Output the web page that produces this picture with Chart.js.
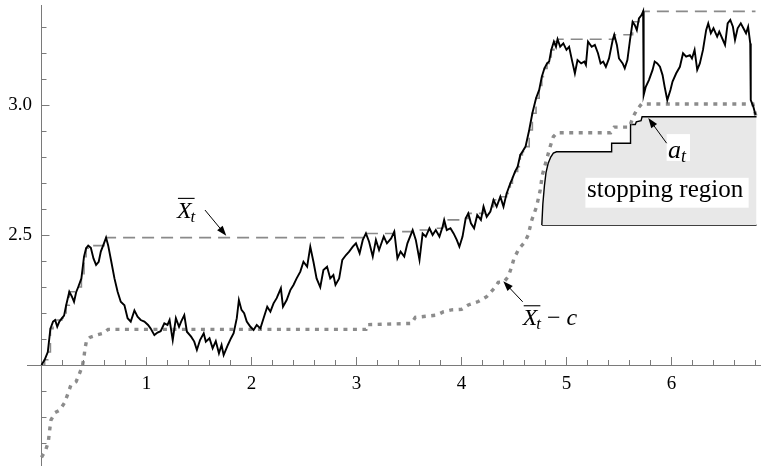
<!DOCTYPE html>
<html><head><meta charset="utf-8">
<script src="https://cdn.jsdelivr.net/npm/chart.js@4.4.1/dist/chart.umd.min.js"></script>
<style>html,body{margin:0;padding:0;background:#fff;overflow:hidden}#wrap{width:763px;height:466px}</style>
</head><body><div id="wrap"><canvas id="c" width="763" height="466"></canvas></div>
<script>
// ---------- data ----------
const pathT = [0,0.03,0.06,0.085,0.11,0.13,0.15,0.17,0.195,0.215,0.235,0.265,0.29,0.31,0.33,0.35,0.38,0.405,0.425,0.445,0.47,0.495,0.52,0.545,0.565,0.595,0.615,0.635,0.665,0.695,0.725,0.755,0.79,0.82,0.85,0.885,0.915,0.945,0.98,1.015,1.04,1.075,1.105,1.135,1.17,1.2,1.22,1.25,1.28,1.31,1.33,1.36,1.385,1.425,1.455,1.48,1.51,1.545,1.565,1.6,1.63,1.66,1.69,1.715,1.735,1.775,1.805,1.83,1.86,1.88,1.905,1.93,1.955,1.99,2.02,2.05,2.085,2.115,2.15,2.18,2.21,2.24,2.28,2.3,2.335,2.37,2.4,2.43,2.465,2.495,2.53,2.56,2.59,2.62,2.655,2.685,2.72,2.75,2.78,2.8,2.835,2.865,2.9,2.93,2.965,2.995,3.03,3.06,3.09,3.12,3.155,3.185,3.215,3.26,3.29,3.33,3.36,3.39,3.42,3.455,3.485,3.535,3.565,3.6,3.63,3.66,3.695,3.725,3.755,3.79,3.82,3.835,3.86,3.895,3.925,3.955,3.98,4.01,4.04,4.065,4.09,4.12,4.15,4.185,4.21,4.24,4.275,4.305,4.335,4.37,4.4,4.43,4.465,4.485,4.51,4.535,4.56,4.58,4.61,4.645,4.675,4.71,4.74,4.765,4.79,4.815,4.835,4.855,4.88,4.9,4.915,4.94,4.97,5.0,5.025,5.055,5.08,5.105,5.14,5.17,5.185,5.205,5.24,5.27,5.3,5.325,5.35,5.375,5.405,5.44,5.455,5.48,5.5,5.535,5.555,5.58,5.605,5.63,5.65,5.67,5.69,5.715,5.73,5.735,5.755,5.785,5.82,5.84,5.865,5.89,5.915,5.935,5.96,5.99,6.01,6.045,6.08,6.11,6.14,6.175,6.195,6.22,6.245,6.27,6.3,6.33,6.35,6.375,6.4,6.435,6.455,6.49,6.51,6.535,6.56,6.585,6.605,6.63,6.66,6.685,6.71,6.73,6.75,6.755,6.78,6.8];
const pathX = [2.0,2.02,2.05,2.14,2.167,2.173,2.147,2.167,2.18,2.19,2.23,2.282,2.263,2.243,2.28,2.30,2.333,2.417,2.449,2.459,2.451,2.41,2.385,2.397,2.436,2.468,2.49,2.46,2.397,2.333,2.282,2.243,2.23,2.18,2.167,2.21,2.186,2.173,2.167,2.154,2.14,2.115,2.125,2.13,2.16,2.154,2.173,2.096,2.18,2.147,2.167,2.192,2.128,2.109,2.09,2.058,2.096,2.122,2.09,2.103,2.064,2.092,2.045,2.077,2.038,2.077,2.103,2.122,2.18,2.25,2.212,2.199,2.167,2.147,2.135,2.154,2.141,2.18,2.224,2.205,2.237,2.257,2.295,2.224,2.25,2.288,2.308,2.333,2.359,2.397,2.378,2.455,2.397,2.333,2.299,2.365,2.378,2.333,2.346,2.308,2.333,2.404,2.423,2.436,2.455,2.468,2.43,2.481,2.506,2.474,2.417,2.481,2.442,2.494,2.468,2.487,2.513,2.41,2.436,2.417,2.468,2.519,2.481,2.404,2.506,2.494,2.526,2.5,2.519,2.494,2.532,2.558,2.519,2.526,2.506,2.481,2.455,2.494,2.564,2.583,2.545,2.526,2.577,2.558,2.609,2.57,2.59,2.635,2.609,2.647,2.609,2.66,2.699,2.718,2.744,2.763,2.808,2.82,2.84,2.904,2.968,3.026,3.058,3.109,3.141,3.16,3.167,3.212,3.244,3.224,3.253,3.224,3.237,3.212,3.224,3.167,3.122,3.173,3.16,3.167,3.154,3.244,3.224,3.231,3.199,3.16,3.167,3.147,3.179,3.25,3.27,3.231,3.179,3.16,3.141,3.173,3.25,3.32,3.308,3.288,3.333,3.346,3.36,3.038,3.07,3.096,3.135,3.167,3.16,3.147,3.115,3.07,3.019,3.058,3.09,3.122,3.147,3.199,3.186,3.192,3.179,3.212,3.135,3.16,3.212,3.288,3.314,3.276,3.295,3.263,3.282,3.25,3.231,3.314,3.327,3.301,3.25,3.295,3.314,3.295,3.276,3.301,3.237,3.019,2.993,2.962];

// running maximum (dashed), step points
const maxT = [0,0.03,0.06,0.085,0.11,0.13,0.195,0.215,0.235,0.265,0.35,0.38,0.405,0.425,0.445,0.595,0.615,3.09,3.36,3.535,3.695,3.82,3.835,4.04,4.065,4.21,4.305,4.37,4.43,4.465,4.485,4.51,4.535,4.56,4.58,4.61,4.645,4.675,4.71,4.74,4.765,4.79,4.815,4.835,4.855,4.88,4.915,5.455,5.63,5.69,5.715,5.73,6.8];
const maxX = [2.0,2.02,2.05,2.14,2.167,2.173,2.18,2.19,2.23,2.282,2.30,2.333,2.417,2.449,2.459,2.468,2.49,2.506,2.513,2.519,2.526,2.532,2.558,2.564,2.583,2.609,2.635,2.647,2.66,2.699,2.718,2.744,2.763,2.808,2.82,2.84,2.904,2.968,3.026,3.058,3.109,3.141,3.16,3.167,3.212,3.244,3.253,3.27,3.32,3.333,3.346,3.36,3.36];

// running maximum minus c (dotted)
const lowT = [0,0.04,0.065,0.08,0.09,0.13,0.175,0.22,0.25,0.28,0.33,0.36,0.39,0.405,0.415,0.43,0.46,0.525,0.59,0.635,3.09,3.10,3.525,3.56,3.765,3.83,3.905,4.0,4.065,4.16,4.24,4.32,4.35,4.405,4.445,4.478,4.5,4.55,4.605,4.635,4.67,4.715,4.75,4.77,4.805,4.845,4.875,4.91,5.42,5.455,5.6,5.635,5.67,5.715,6.775,6.79,6.805];
const lowX = [1.645,1.673,1.705,1.757,1.788,1.817,1.827,1.855,1.888,1.923,1.936,1.965,1.997,2.032,2.064,2.096,2.106,2.115,2.122,2.137,2.137,2.155,2.16,2.183,2.192,2.205,2.212,2.214,2.231,2.244,2.263,2.299,2.318,2.32,2.34,2.378,2.41,2.449,2.474,2.5,2.558,2.609,2.673,2.731,2.782,2.84,2.878,2.893,2.893,2.915,2.915,2.955,2.981,3.004,3.004,2.98,2.955];

// boundary a_t of the stopping region
const aT = [4.765,4.775,4.79,4.805,4.825,4.85,4.875,4.905,5.43,5.43,5.61,5.61,5.655,5.665,5.71,5.72,6.81];
const aX = [2.538,2.62,2.69,2.74,2.775,2.80,2.815,2.82,2.82,2.853,2.853,2.925,2.925,2.935,2.94,2.955,2.955];
const regionBottom = 2.538;

// tick labels
const xTickLabels = ['1','2','3','4','5','6'];
const yTickLabels = ['2.5','3.0'];

// ---------- drawing ----------
const pts = (ts, vs) => ts.map((t, i) => ({x: t, y: vs[i]}));
const SERIF = '"Liberation Serif", "Times New Roman", serif';
const GAP = '\u2002'; // keeps y labels clear of the axis

const tickMarks = {
  id: 'tickMarks',
  afterDraw(chart) {
    const {ctx, scales: {x, y}} = chart;
    const ax = x.getPixelForValue(0), ay = y.getPixelForValue(2);
    ctx.save();
    ctx.strokeStyle = '#7a7a7a';
    ctx.lineWidth = 1;
    x.ticks.forEach(tk => {
      if (tk.value <= 0) return;
      const px = Math.round(x.getPixelForValue(tk.value)) + 0.5;
      const major = Math.abs(tk.value - Math.round(tk.value)) < 1e-6;
      ctx.beginPath(); ctx.moveTo(px, ay); ctx.lineTo(px, ay - (major ? 8 : 5)); ctx.stroke();
    });
    y.ticks.forEach(tk => {
      const py = Math.round(y.getPixelForValue(tk.value)) + 0.5;
      const major = Math.abs(tk.value * 2 - Math.round(tk.value * 2)) < 1e-6;
      ctx.beginPath(); ctx.moveTo(ax, py); ctx.lineTo(ax + (major ? 8 : 5), py); ctx.stroke();
    });
    ctx.restore();
  }
};

function arrow(ctx, x1, y1, x2, y2) {
  const a = Math.atan2(y2 - y1, x2 - x1), L = 10, W = 3.6;
  ctx.beginPath(); ctx.moveTo(x1, y1); ctx.lineTo(x2 - L * 0.8 * Math.cos(a), y2 - L * 0.8 * Math.sin(a)); ctx.stroke();
  ctx.beginPath(); ctx.moveTo(x2, y2);
  ctx.lineTo(x2 - L * Math.cos(a) + W * Math.sin(a), y2 - L * Math.sin(a) - W * Math.cos(a));
  ctx.lineTo(x2 - L * Math.cos(a) - W * Math.sin(a), y2 - L * Math.sin(a) + W * Math.cos(a));
  ctx.closePath(); ctx.fill();
}

function xbar(ctx, px, py, size, tail) {
  ctx.font = 'italic ' + size + 'px ' + SERIF;
  ctx.textAlign = 'left'; ctx.textBaseline = 'alphabetic';
  ctx.fillText('X', px, py);
  const w = ctx.measureText('X').width;
  ctx.lineWidth = 1.1;
  ctx.beginPath(); ctx.moveTo(px + 1, py - size * 0.8); ctx.lineTo(px + w + 3, py - size * 0.8); ctx.stroke();
  ctx.font = 'italic ' + Math.round(size * 0.72) + 'px ' + SERIF;
  ctx.fillText('t', px + w - 1, py + size * 0.18);
  let cx = px + w - 1 + ctx.measureText('t').width;
  if (tail) {
    ctx.font = size + 'px ' + SERIF;
    ctx.fillText(' \u2212 ', cx, py);
    cx += ctx.measureText(' \u2212 ').width;
    ctx.font = 'italic ' + size + 'px ' + SERIF;
    ctx.fillText('c', cx, py);
  }
}

const annotations = {
  id: 'annotations',
  afterDatasetsDraw(chart) {
    const {ctx, scales: {x, y}} = chart;
    const X = v => x.getPixelForValue(v), Y = v => y.getPixelForValue(v);
    ctx.save();
    ctx.fillStyle = '#000'; ctx.strokeStyle = '#000'; ctx.lineWidth = 1;
    // X-bar label
    xbar(ctx, X(1.29), Y(2.567), 24, false);
    ctx.lineWidth = 1; arrow(ctx, X(1.557), Y(2.596), X(1.76), Y(2.497));
    // X-bar minus c
    xbar(ctx, X(4.583), Y(2.154), 24, true);
    ctx.lineWidth = 1; arrow(ctx, X(4.583), Y(2.243), X(4.398), Y(2.322));
    // a_t label and stopping-region label with white boxes
    ctx.fillStyle = '#fff';
    ctx.fillRect(X(5.954), Y(2.888), X(6.176) - X(5.954), Y(2.785) - Y(2.888));
    ctx.fillRect(X(5.18), Y(2.720), X(6.735) - X(5.18), Y(2.605) - Y(2.720));
    ctx.fillStyle = '#000';
    ctx.font = 'italic 26px ' + SERIF; ctx.textAlign = 'left'; ctx.textBaseline = 'alphabetic';
    ctx.fillText('a', X(5.967), Y(2.798));
    const wa = ctx.measureText('a').width;
    ctx.font = 'italic 18px ' + SERIF;
    ctx.fillText('t', X(5.967) + wa, Y(2.782));
    ctx.lineWidth = 1; arrow(ctx, X(5.954), Y(2.853), X(5.779), Y(2.950));
    ctx.font = '25px ' + SERIF;
    ctx.fillText('stopping region', X(5.195), Y(2.648));
    ctx.restore();
  }
};

const noPad = s => { s.paddingTop = 0; s.paddingBottom = 0; s.paddingLeft = 0; s.paddingRight = 0; };

new Chart(document.getElementById('c'), {
  type: 'scatter',
  data: {
    datasets: [
      {data: pts(pathT, pathX), showLine: true, borderColor: '#000', borderWidth: 1.9, pointRadius: 0, fill: false},
      {data: pts(maxT, maxX), showLine: true, stepped: 'before', borderColor: '#8a8a8a', borderWidth: 1.6, borderDash: [12, 7], pointRadius: 0, fill: false},
      {data: pts(lowT, lowX), showLine: true, borderColor: '#8c8c8c', borderWidth: 3.4, borderDash: [4, 5.5], pointRadius: 0, fill: false},
      {data: pts(aT, aX), showLine: true, borderColor: '#000', borderWidth: 1.4, pointRadius: 0, fill: {value: regionBottom}, backgroundColor: '#e8e8e8'},
      {data: pts([aT[0], aT[aT.length - 1]], [regionBottom, regionBottom]), showLine: true, borderColor: '#000', borderWidth: 1.4, pointRadius: 0, fill: false}
    ]
  },
  options: {
    responsive: false, animation: false, devicePixelRatio: 1,
    layout: {padding: {left: 27, right: 3, top: 5, bottom: 1}},
    plugins: {legend: {display: false}, tooltip: {enabled: false}},
    elements: {line: {tension: 0}},
    scales: {
      x: {
        type: 'linear', min: -0.138, max: 6.843, position: {y: 2},
        afterFit: noPad,
        grid: {display: false, drawTicks: false},
        border: {display: true, color: '#7a7a7a', width: 1},
        ticks: {stepSize: 0.2, includeBounds: false, autoSkip: false, maxRotation: 0, padding: 8,
          color: '#000', font: {family: SERIF, size: 19},
          callback: v => { const i = Math.round(v); return (Math.abs(v - i) < 1e-6 && i >= 1 && i <= 6) ? xTickLabels[i - 1] : ''; }}
      },
      y: {
        type: 'linear', min: 1.6154, max: 3.3846, position: {x: 0},
        afterFit: noPad,
        grid: {display: false, drawTicks: false},
        border: {display: true, color: '#7a7a7a', width: 1},
        ticks: {stepSize: 0.1, includeBounds: false, autoSkip: false, padding: 9,
          color: '#000', font: {family: SERIF, size: 19},
          callback: v => Math.abs(v - 2.5) < 1e-6 ? yTickLabels[0] + GAP : (Math.abs(v - 3) < 1e-6 ? yTickLabels[1] + GAP : '')}
      }
    }
  },
  plugins: [tickMarks, annotations]
});
</script>
</body></html>
